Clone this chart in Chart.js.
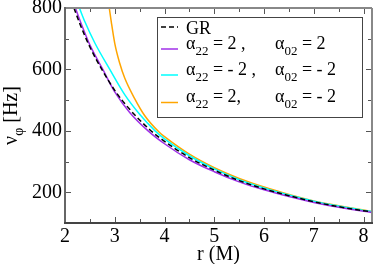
<!DOCTYPE html>
<html>
<head>
<meta charset="utf-8">
<script src="https://cdn.jsdelivr.net/npm/chart.js@4"></script>
<style>html,body{margin:0;padding:0;background:#fff}</style>
</head>
<body>
<canvas id="chart" width="374" height="264"></canvas>
<script>
// r (M) and nu_phi (Hz)
const rGR = [2.18, 2.3, 2.5, 2.74, 3.0, 3.3, 3.71, 4, 4.5, 5, 5.5, 6, 6.5, 7, 7.5, 8, 8.2];
const vGR = [800, 748, 673, 600, 532, 470, 403, 366, 313, 272, 238, 211, 189, 169, 153, 140, 136];

const rPos = [2.21, 2.3, 2.5, 2.76, 3.0, 3.3, 3.67, 4, 4.5, 5, 5.5, 6, 6.5, 7, 7.5, 8, 8.2];
const vPos = [800, 760, 680, 600, 527, 460, 400, 358, 306, 267, 234, 208, 186, 167, 151, 138, 134];

const rNeg = [2.29, 2.4, 2.6, 2.9, 3.2, 3.5, 3.81, 4, 4.5, 5, 5.5, 6, 6.5, 7, 7.5, 8, 8.2];
const vNeg = [800, 755, 686, 600, 518, 454, 400, 374, 319, 276, 241, 214, 191, 171, 155, 141, 137];

const rMix = [2.89, 2.93, 3.0, 3.1, 3.2, 3.4, 3.6, 3.89, 4, 4.5, 5, 5.5, 6, 6.5, 7, 7.5, 8, 8.2];
const vMix = [800, 755, 685, 620, 572, 505, 450, 396, 381, 324, 280, 245, 217, 193, 172, 156, 142, 137];

const xTicks = [2, 3, 4, 5, 6, 7, 8];
const yTicks = [200, 400, 600, 800];

// legend rows: [left part, right part], each a list of [text, isSubscript]
const legendRows = [
    [[['GR', 0]], null],
    [[['α', 0], ['22', 1], [' = 2 ,', 0]], [['α', 0], ['02', 1], [' = 2', 0]]],
    [[['α', 0], ['22', 1], [' = - 2 ,', 0]], [['α', 0], ['02', 1], [' = - 2', 0]]],
    [[['α', 0], ['22', 1], [' = 2,', 0]], [['α', 0], ['02', 1], [' = - 2', 0]]]
];

const SERIF = '"Liberation Serif", "Times New Roman", serif';

function pts(rs, vs) {
    return rs.map((r, i) => ({ x: r, y: vs[i] }));
}

function richText(ctx, parts, x, y, size, subSize, subDrop) {
    for (const [t, sub] of parts) {
        ctx.font = (sub ? subSize : size) + 'px ' + SERIF;
        ctx.fillText(t, x, sub ? y + subDrop : y);
        x += ctx.measureText(t).width;
    }
    return x;
}

function richWidth(ctx, parts, size, subSize) {
    let w = 0;
    for (const [t, sub] of parts) {
        ctx.font = (sub ? subSize : size) + 'px ' + SERIF;
        w += ctx.measureText(t).width;
    }
    return w;
}

function seg(ctx, x1, y1, x2, y2) {
    ctx.beginPath();
    ctx.moveTo(x1, y1);
    ctx.lineTo(x2, y2);
    ctx.stroke();
}

// inward ticks on all sides, frame, legend and y title
const decor = {
    id: 'decor',
    afterDatasetsDraw(chart) {
        const { ctx, chartArea: a, scales: { x, y } } = chart;
        ctx.save();

        ctx.strokeStyle = '#555';
        ctx.lineWidth = 1;
        for (let v = x.min; v <= x.max + 1e-9; v += 0.5) {
            const px = Math.round(x.getPixelForValue(v)) + 0.5;
            const len = Number.isInteger(v) ? 6 : 4;
            seg(ctx, px, a.bottom, px, a.bottom - len);
            seg(ctx, px, a.top, px, a.top + len);
        }
        for (let v = 200; v <= y.max; v += 100) {
            const py = Math.round(y.getPixelForValue(v)) + 0.5;
            const len = v % 200 === 0 ? 6 : 4;
            seg(ctx, a.left, py, a.left + len, py);
            seg(ctx, a.right, py, a.right - len, py);
        }

        ctx.lineWidth = 2;
        ctx.strokeStyle = '#888';
        seg(ctx, a.left, a.top, a.right, a.top);
        seg(ctx, a.right, a.top, a.right, a.bottom);
        ctx.strokeStyle = '#666';
        seg(ctx, a.left, a.top - 1, a.left, a.bottom + 1);
        ctx.strokeStyle = '#444';
        seg(ctx, a.left - 1, a.bottom, a.right + 1, a.bottom);

        // legend box
        const bx = 157.5, by = 17.5, bw = 205, bh = 100;
        ctx.fillStyle = '#fff';
        ctx.fillRect(bx, by, bw, bh);
        ctx.strokeStyle = '#444';
        ctx.lineWidth = 1;
        ctx.strokeRect(bx, by, bw, bh);

        const sampleY = [27, 49, 75, 102.5];
        const textY = [34, 48.5, 74.5, 101.5];
        chart.data.datasets.forEach((ds, i) => {
            ctx.strokeStyle = ds.borderColor;
            ctx.lineWidth = ds.borderWidth;
            ctx.setLineDash(ds.borderDash || []);
            seg(ctx, 161, sampleY[i], 178, sampleY[i]);
            ctx.setLineDash([]);
            ctx.fillStyle = '#000';
            ctx.textBaseline = 'alphabetic';
            ctx.textAlign = 'left';
            const [left, right] = legendRows[i];
            richText(ctx, left, 186, textY[i], 18, 13, 6);
            if (right) richText(ctx, right, 275, textY[i], 18, 13, 6);
        });

        // y axis title with subscript
        const title = [['ν', 0], ['φ', 1], [' [Hz]', 0]];
        ctx.translate(17, (a.top + a.bottom) / 2);
        ctx.rotate(-Math.PI / 2);
        const w = richWidth(ctx, title, 20, 14);
        ctx.fillStyle = '#000';
        richText(ctx, title, -w / 2, 0, 20, 14, 6);

        ctx.restore();
    }
};

new Chart(document.getElementById('chart'), {
    type: 'line',
    data: {
        datasets: [{
            label: 'GR',
            data: pts(rGR, vGR),
            borderColor: '#000000',
            borderDash: [5, 3],
            borderWidth: 1.5
        }, {
            label: 'a22 = 2, a02 = 2',
            data: pts(rPos, vPos),
            borderColor: '#a030e8',
            borderWidth: 1.5
        }, {
            label: 'a22 = -2, a02 = -2',
            data: pts(rNeg, vNeg),
            borderColor: '#00ffff',
            borderWidth: 1.5
        }, {
            label: 'a22 = 2, a02 = -2',
            data: pts(rMix, vMix),
            borderColor: '#ffa500',
            borderWidth: 1.5
        }]
    },
    options: {
        responsive: false,
        animation: false,
        devicePixelRatio: 1,
        layout: { padding: { top: 8, right: 2, left: 0, bottom: 0 } },
        elements: {
            point: { radius: 0 },
            line: { cubicInterpolationMode: 'monotone', fill: false }
        },
        plugins: {
            legend: { display: false },
            tooltip: { enabled: false }
        },
        scales: {
            x: {
                type: 'linear',
                min: 2,
                max: 8.17,
                grid: { display: false, drawTicks: false },
                border: { display: false },
                afterBuildTicks(s) { s.ticks = xTicks.map(v => ({ value: v })); },
                afterFit(s) { s.height = 41; s.paddingLeft = 0; s.paddingRight = 0; },
                ticks: {
                    color: '#000',
                    padding: 2,
                    maxRotation: 0,
                    font: { family: SERIF, size: 20 }
                },
                title: {
                    display: true,
                    text: 'r (M)',
                    color: '#000',
                    padding: { top: 0, bottom: -3 },
                    font: { family: SERIF, size: 20 }
                }
            },
            y: {
                type: 'linear',
                min: 100,
                max: 800,
                grid: { display: false, drawTicks: false },
                border: { display: false },
                afterBuildTicks(s) { s.ticks = yTicks.map(v => ({ value: v })); },
                afterFit(s) { s.width = 65; s.paddingTop = 0; s.paddingBottom = 0; },
                ticks: {
                    color: '#000',
                    padding: 3,
                    font: { family: SERIF, size: 20 }
                }
            }
        }
    },
    plugins: [decor]
});
</script>
</body>
</html>
